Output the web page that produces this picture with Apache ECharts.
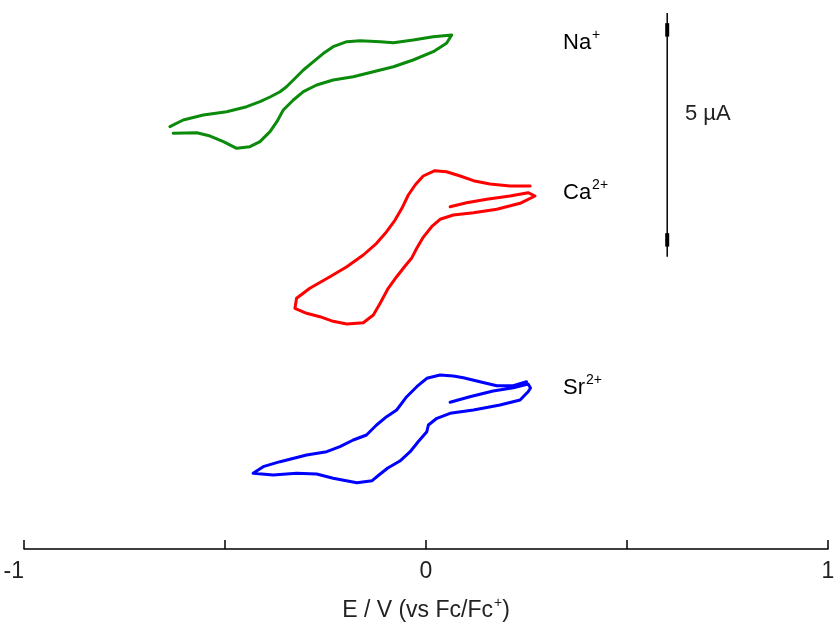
<!DOCTYPE html>
<html>
<head>
<meta charset="utf-8">
<script src="https://cdn.jsdelivr.net/npm/echarts@6/dist/echarts.min.js"></script>
<style>
  html, body { margin: 0; padding: 0; background: #fff; }
  #chart { width: 838px; height: 624px; }
</style>
</head>
<body>
<div id="chart"></div>
<script>
// Cyclic voltammograms, potential E (V vs Fc/Fc+) and current (µA, traces offset vertically)

// Na+ trace
const naE = [-0.629, -0.570, -0.537, -0.504, -0.471, -0.438, -0.413, -0.388, -0.371, -0.355,
             -0.330, -0.305, -0.272, -0.231, -0.181, -0.131, -0.081, -0.032, 0.018, 0.051,
             0.064, 0.018, -0.032, -0.081, -0.114, -0.164, -0.197, -0.231, -0.255, -0.280,
             -0.305, -0.330, -0.347, -0.363, -0.388, -0.413, -0.446, -0.496, -0.554, -0.604, -0.637];
const naI = [9.898, 9.912, 9.833, 9.698, 9.540, 9.579, 9.698, 9.936, 10.174, 10.452,
             10.690, 10.888, 11.048, 11.167, 11.245, 11.364, 11.483, 11.643, 11.840, 12.040,
             12.238, 12.198, 12.119, 12.055, 12.079, 12.102, 12.079, 11.960, 11.802, 11.602,
             11.405, 11.167, 11.007, 10.888, 10.762, 10.650, 10.531, 10.412, 10.333, 10.214, 10.055];

// Ca2+ trace
const caE = [0.060, 0.101, 0.151, 0.209, 0.254, 0.271, 0.234, 0.176, 0.118, 0.068,
             0.035, 0.014, -0.007, -0.023, -0.036, -0.052, -0.073, -0.094, -0.114, -0.131,
             -0.156, -0.197, -0.231, -0.264, -0.297, -0.326, -0.322, -0.289, -0.239, -0.197,
             -0.156, -0.123, -0.098, -0.077, -0.060, -0.044, -0.027, -0.007, 0.022, 0.051,
             0.085, 0.118, 0.159, 0.209, 0.259];
const caI = [8.150, 8.245, 8.326, 8.405, 8.483, 8.405, 8.231, 8.088, 8.007, 7.952,
             7.850, 7.674, 7.421, 7.160, 6.921, 6.738, 6.483, 6.207, 5.850, 5.571,
             5.388, 5.357, 5.421, 5.531, 5.612, 5.731, 5.969, 6.207, 6.483, 6.721,
             7.000, 7.279, 7.555, 7.833, 8.112, 8.429, 8.667, 8.881, 9.007, 8.983,
             8.881, 8.769, 8.690, 8.643, 8.643];

// Sr2+ trace
const srE = [0.060, 0.109, 0.167, 0.217, 0.254, 0.260, 0.254, 0.234, 0.184, 0.118,
             0.060, 0.027, 0.006, 0.002, -0.020, -0.040, -0.065, -0.095, -0.114, -0.134,
             -0.172, -0.231, -0.272, -0.322, -0.380, -0.430, -0.405, -0.363, -0.297, -0.247,
             -0.214, -0.181, -0.148, -0.123, -0.098, -0.073, -0.048, -0.023, 0.002, 0.035,
             0.068, 0.093, 0.134, 0.176, 0.217, 0.250];
const srI = [3.493, 3.626, 3.762, 3.840, 3.929, 3.833, 3.745, 3.548, 3.429, 3.310,
             3.231, 3.112, 2.952, 2.793, 2.548, 2.310, 2.095, 1.929, 1.786, 1.626,
             1.579, 1.683, 1.786, 1.802, 1.762, 1.802, 1.960, 2.079, 2.238, 2.317,
             2.436, 2.595, 2.714, 2.952, 3.150, 3.310, 3.626, 3.864, 4.064, 4.143,
             4.119, 4.079, 3.983, 3.888, 3.888, 3.983];

// Current scale bar (5 µA between the end caps)
const barE = 0.6;
const barCapTop = 12.36;
const barCapBottom = 7.36;
const barOvershoot = 0.4;
const barCapHalf = 0.16;

// x-axis ticks
const xTicks = [-1, -0.5, 0, 0.5, 1];
const xTickLabels = ['-1', '', '0', '', '1'];

const zip = (xs, ys) => xs.map((x, i) => [x, ys[i]]);

const FONT = '"Liberation Sans", Arial, sans-serif';
const AXIS_SIZE = 23;
const NOTE_SIZE = 22;

const chart = echarts.init(document.getElementById('chart'), null, { renderer: 'canvas' });

function traceSeries(name, e, i, color) {
  return {
    name: name,
    type: 'line',
    data: zip(e, i),
    showSymbol: false,
    symbol: 'none',
    smooth: false,
    silent: true,
    animation: false,
    lineStyle: { color: color, width: 3, join: 'round', cap: 'round' }
  };
}

function supStyles(size) {
  return {
    b: { fontFamily: FONT, fontSize: size, color: '#222', lineHeight: 26, verticalAlign: 'bottom' },
    s: { fontFamily: FONT, fontSize: Math.round(size * 0.62), color: '#222', lineHeight: 26, verticalAlign: 'top', padding: [0, 0, 0, 1] }
  };
}

const option = {
  backgroundColor: '#ffffff',
  animation: false,
  grid: { left: 24, right: 10, top: 3, bottom: 75, containLabel: false, outerBoundsMode: 'none' },
  xAxis: {
    type: 'value',
    min: -1,
    max: 1,
    interval: 0.5,
    splitLine: { show: false },
    axisLine: { show: true, onZero: false, lineStyle: { color: '#000', width: 1.5 } },
    axisTick: { show: true, inside: true, length: 9, lineStyle: { color: '#000', width: 1.5 } },
    axisLabel: {
      margin: 11,
      fontFamily: FONT,
      fontSize: AXIS_SIZE,
      color: '#222',
      alignMinLabel: 'right',
      formatter: v => {
        const k = xTicks.findIndex(t => Math.abs(t - v) < 1e-9);
        return k >= 0 ? xTickLabels[k] : '';
      }
    },
    name: '{b|E / V (vs Fc/Fc}{s|+}{b|)}',
    nameLocation: 'middle',
    nameGap: 47,
    nameTextStyle: { rich: supStyles(AXIS_SIZE) }
  },
  yAxis: {
    type: 'value',
    min: 0,
    max: 13,
    show: false
  },
  series: [
    traceSeries('Na+', naE, naI, '#0b8a0b'),
    traceSeries('Ca2+', caE, caI, '#ff0000'),
    traceSeries('Sr2+', srE, srI, '#0000ff'),
    {
      name: 'scale',
      type: 'line',
      data: [[barE, barCapTop + barOvershoot], [barE, barCapBottom - barOvershoot]],
      showSymbol: false,
      symbol: 'none',
      silent: true,
      lineStyle: { color: '#000', width: 1.5 }
    },
    {
      name: 'capTop',
      type: 'line',
      data: [[barE, barCapTop + barCapHalf], [barE, barCapTop - barCapHalf]],
      showSymbol: false,
      symbol: 'none',
      silent: true,
      lineStyle: { color: '#000', width: 4 }
    },
    {
      name: 'capBottom',
      type: 'line',
      data: [[barE, barCapBottom + barCapHalf], [barE, barCapBottom - barCapHalf]],
      showSymbol: false,
      symbol: 'none',
      silent: true,
      lineStyle: { color: '#000', width: 4 }
    }
  ],
  graphic: [
    { type: 'text', left: 563, top: 28, silent: true,
      style: { text: '{b|Na}{s|+}', rich: supStyles(NOTE_SIZE) } },
    { type: 'text', left: 563, top: 178, silent: true,
      style: { text: '{b|Ca}{s|2+}', rich: supStyles(NOTE_SIZE) } },
    { type: 'text', left: 563, top: 373, silent: true,
      style: { text: '{b|Sr}{s|2+}', rich: supStyles(NOTE_SIZE) } },
    { type: 'text', left: 685, top: 103, silent: true,
      style: { text: '5 µA', font: NOTE_SIZE + 'px ' + FONT, fill: '#222' } }
  ]
};

chart.setOption(option);
</script>
</body>
</html>
